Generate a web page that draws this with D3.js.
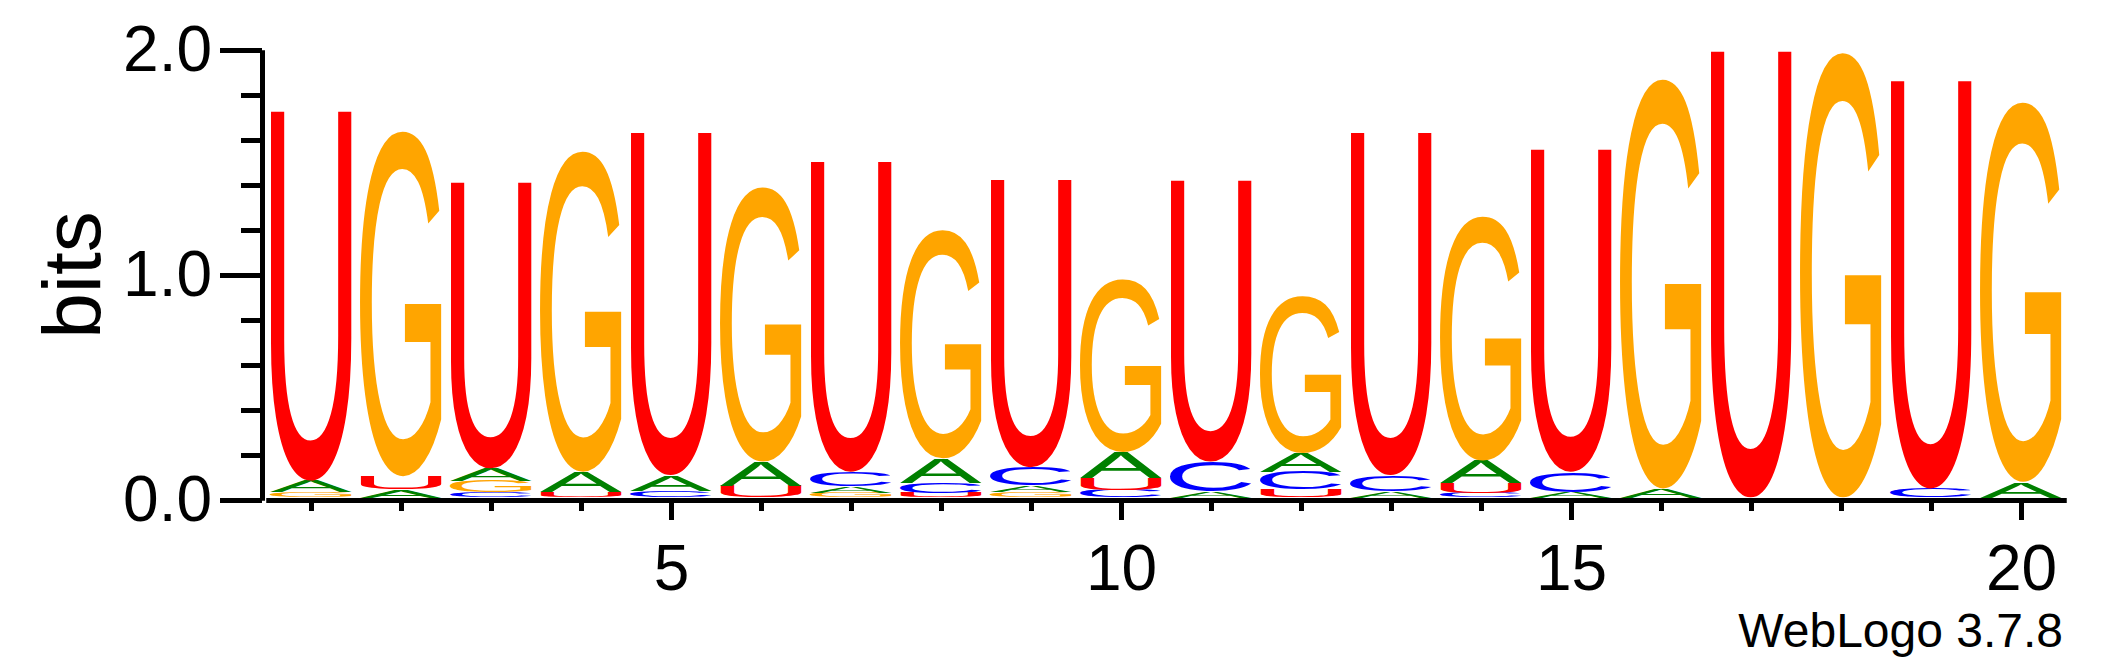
<!DOCTYPE html>
<html>
<head>
<meta charset="utf-8">
<script src="https://cdn.jsdelivr.net/npm/d3@7"></script>
<style>
  body { margin: 0; background: #fff; }
  text { font-family: "Liberation Sans", Arial, Helvetica, sans-serif; }
</style>
</head>
<body>
<div id="logo"></div>
<script>
// positions along the sequence
var positions = [1,2,3,4,5,6,7,8,9,10,11,12,13,14,15,16,17,18,19,20];

// bits per letter at each position
var bitsA = [0.05, 0.035, 0.055, 0.09, 0.07, 0.11, 0.028, 0.11, 0.03, 0.115, 0.025, 0.085, 0.03, 0.1, 0.025, 0.04, 0, 0, 0, 0.07];
var bitsC = [0, 0, 0.025, 0, 0.03, 0, 0.065, 0.045, 0.08, 0.035, 0.135, 0.08, 0.07, 0.02, 0.09, 0, 0, 0, 0.04, 0];
var bitsG = [0.025, 1.543, 0.05, 1.434, 0, 1.228, 0.022, 1.022, 0.025, 0.773, 0, 0.702, 0, 1.093, 0, 1.832, 0, 1.99, 0, 1.698];
var bitsU = [1.654, 0.06, 1.28, 0.025, 1.534, 0.05, 1.389, 0.02, 1.288, 0.05, 1.259, 0.035, 1.534, 0.045, 1.443, 0, 1.998, 0, 1.826, 0];

var letters = ["A", "C", "G", "U"];
var colors = {A: "#008000", C: "#0000ff", G: "#ffa500", U: "#ff0000"};

var yTicksMajor = [0, 1, 2];
var yTicksMinor = [0.2, 0.4, 0.6, 0.8, 1.2, 1.4, 1.6, 1.8];
var xTicksMajor = [5, 10, 15, 20];

var svg = d3.select("#logo").append("svg")
  .attr("width", 2117)
  .attr("height", 667);

var x = d3.scaleLinear().domain([0.5, 20.5]).range([266, 2066]);
var y = d3.scaleLinear().domain([0, 2]).range([500, 50]);
// letters sit just on top of the axis line
var yStack = d3.scaleLinear().domain([0, 2]).range([497.5, 50]);

// tight glyph bounds, so each letter can be stretched to its box
var ctx = document.createElement("canvas").getContext("2d");
ctx.font = "100px 'Liberation Sans', Arial, sans-serif";
var glyph = {};
letters.forEach(function(l) {
  var m = ctx.measureText(l);
  glyph[l] = {
    left: m.actualBoundingBoxLeft,
    asc: m.actualBoundingBoxAscent,
    w: m.actualBoundingBoxLeft + m.actualBoundingBoxRight,
    h: m.actualBoundingBoxAscent + m.actualBoundingBoxDescent
  };
});

var table = {A: bitsA, C: bitsC, G: bitsG, U: bitsU};
var stacks = positions.map(function(p, i) {
  var col = letters.map(function(l) { return {letter: l, bits: table[l][i]}; })
    .filter(function(d) { return d.bits > 0; })
    .sort(function(a, b) { return a.bits - b.bits; });
  var base = 0;
  col.forEach(function(d) { d.y0 = base; base += d.bits; d.y1 = base; d.pos = p; });
  return col;
});

var letterW = 82;
var g = svg.append("g");
g.selectAll("g.stack").data(stacks).enter().append("g")
  .attr("class", "stack")
  .selectAll("text").data(function(d) { return d; }).enter().append("text")
  .text(function(d) { return d.letter; })
  .attr("fill", function(d) { return colors[d.letter]; })
  .style("font-size", "100px")
  .attr("transform", function(d) {
    var m = glyph[d.letter];
    var top = yStack(d.y1), bot = yStack(d.y0);
    var x0 = x(d.pos) - letterW / 2;
    return "translate(" + x0 + "," + top + ") scale(" + (letterW / m.w) + "," + ((bot - top) / m.h) + ") translate(" + m.left + "," + m.asc + ")";
  });

// y axis
var yMinor = svg.append("g")
  .attr("transform", "translate(262,0)")
  .call(d3.axisLeft(y).tickValues(yTicksMinor).tickSize(21).tickSizeOuter(0).tickFormat(""));
var yMajor = svg.append("g")
  .attr("transform", "translate(262,0)")
  .call(d3.axisLeft(y).tickValues(yTicksMajor).tickSize(42).tickSizeOuter(0).tickPadding(8).tickFormat(d3.format(".1f")));

// x axis
var xMinor = svg.append("g")
  .attr("transform", "translate(0,500)")
  .call(d3.axisBottom(x).tickValues(positions).tickSize(11).tickSizeOuter(0).tickFormat(""));
var xMajor = svg.append("g")
  .attr("transform", "translate(0,500)")
  .call(d3.axisBottom(x).tickValues(xTicksMajor).tickSize(20).tickSizeOuter(0).tickPadding(25));

svg.selectAll(".domain, .tick line")
  .attr("stroke", "#000")
  .attr("stroke-width", 5);
svg.selectAll(".tick text")
  .attr("fill", "#000")
  .style("font-size", "64px")
  .style("font-family", "'Liberation Sans', Arial, sans-serif");

svg.append("text")
  .attr("transform", "translate(100,275) rotate(-90)")
  .attr("text-anchor", "middle")
  .style("font-size", "82px")
  .text("bits");

svg.append("text")
  .attr("x", 2063)
  .attr("y", 647)
  .attr("text-anchor", "end")
  .style("font-size", "48px")
  .text("WebLogo 3.7.8");
</script>
</body>
</html>
